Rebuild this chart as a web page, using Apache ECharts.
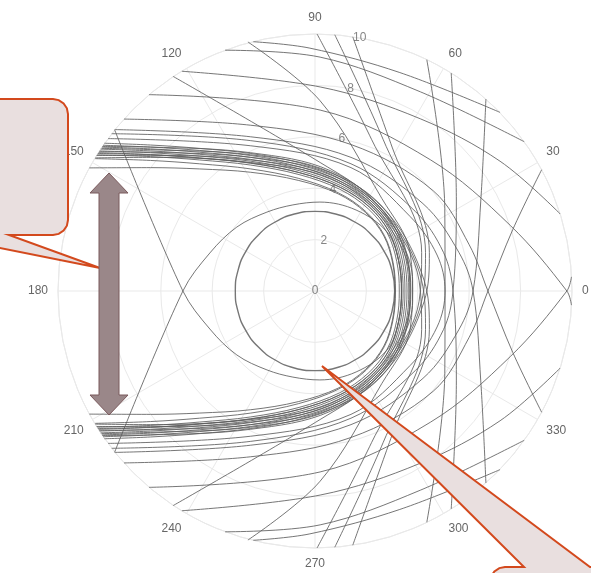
<!DOCTYPE html>
<html>
<head>
<meta charset="utf-8">
<script src="https://cdn.jsdelivr.net/npm/echarts@6.0.0/dist/echarts.min.js"></script>
<style>
  html, body { margin: 0; padding: 0; background: #ffffff; }
  #chart { width: 591px; height: 573px; }
</style>
</head>
<body>
<div id="chart"></div>
<script>
// Polar frame: angle ticks every 30 degrees, rings every 2 units out to 10
const angleTicks = [0, 30, 60, 90, 120, 150, 180, 210, 240, 270, 300, 330];
const radialTicks = [0, 2, 4, 6, 8, 10];
const radialLabelAngle = 80;

// Near-circular orbit close to the centre
const ringRadius = 3.1;
const ringAngles = [0, 15, 30, 45, 60, 75, 90, 105, 120, 135, 150, 165, 180,
                    195, 210, 225, 240, 255, 270, 285, 300, 315, 330, 345, 360];

// Trajectories as [x, y] points in radial units, entering from the upper left
const r1 = [[-2.4, 9.7], [-0.2, 9.45], [3.3, 8.5], [7.2, 6.95]];
const r2 = [[-3.5, 9.37], [0.2, 9.1], [4.1, 7.75], [8.14, 5.81]];
const r3 = [[-5.18, 8.55], [0.2, 7.94], [4.1, 6.7], [7.2, 5.05], [9.54, 3.0]];
const r4 = [[-6.46, 7.64], [0.2, 7.04], [4.5, 5.1], [7.6, 2.55], [9.8, 0], [9.98, -0.55]];
const r5 = [[-7.43, 6.69], [-2.5, 6.45], [1.4, 5.7], [4.6, 3.9], [6.0, 1.8], [6.73, 0], [7.7, -2.4], [8.82, -4.72]];
const r6 = [[-7.78, 6.28], [-2.5, 6.0], [1.4, 5.2], [4.2, 3.4], [5.6, 1.5], [6.15, 0], [6.45, -3.5], [6.65, -7.47]];
const r7 = [[-7.91, 6.12], [-2.5, 5.85], [1.4, 4.95], [3.9, 3.1], [5.0, 1.5], [5.37, 0], [5.5, -3.5], [5.3, -8.48]];
const r8 = [[-8.05, 5.93], [-2.5, 5.65], [1.4, 4.8], [3.7, 2.9], [4.75, 1.4], [5.06, 0], [5.05, -3.2], [4.35, -9.0]];
const r9 = [[-8.27, 5.62], [-6.4, 5.6], [-2.5, 5.38], [0.6, 4.68], [2.9, 2.95], [4.25, 0.4], [4.45, -1.5], [3.0, -5.6], [1.47, -9.89]];
const r10 = [[-8.3, 5.55], [-6.4, 5.5], [-2.5, 5.3], [0.6, 4.62], [2.85, 2.9], [4.15, 0.4], [4.3, -1.5], [2.65, -5.9], [0.77, -9.97]];
const r11 = [[-8.4, 5.42], [-6.4, 5.4], [-2.5, 5.2], [0.6, 4.55], [2.8, 2.85], [4.05, 0.4], [4.15, -1.5], [2.2, -5.9], [0.08, -10]];
const r12 = [[-8.5, 5.27], [-6.4, 5.28], [-2.5, 5.1], [0.6, 4.45], [2.75, 2.8], [3.8, 0.4], [3.7, -1.5], [2.6, -3.6], [0.2, -7.4], [-2.61, -9.69]];
const r13 = [[-8.55, 5.18], [-6.4, 5.2], [-2.5, 5.0], [0.6, 4.38], [2.7, 2.75], [3.7, 0.4], [3.5, -1.6], [2.2, -3.6], [0.2, -5.0], [-5.52, -8.35]];

// The same family entering from the lower left
const s1 = [[-2.4, -9.7], [-0.2, -9.45], [3.3, -8.5], [7.2, -6.95]];
const s2 = [[-3.5, -9.37], [0.2, -9.1], [4.1, -7.75], [8.14, -5.81]];
const s3 = [[-5.18, -8.55], [0.2, -7.94], [4.1, -6.7], [7.2, -5.05], [9.54, -3.0]];
const s4 = [[-6.46, -7.64], [0.2, -7.04], [4.5, -5.1], [7.6, -2.55], [9.8, 0], [9.98, 0.55]];
const s5 = [[-7.43, -6.69], [-2.5, -6.45], [1.4, -5.7], [4.6, -3.9], [6.0, -1.8], [6.73, 0], [7.7, 2.4], [8.82, 4.72]];
const s6 = [[-7.78, -6.28], [-2.5, -6.0], [1.4, -5.2], [4.2, -3.4], [5.6, -1.5], [6.15, 0], [6.45, 3.5], [6.65, 7.47]];
const s7 = [[-7.91, -6.12], [-2.5, -5.85], [1.4, -4.95], [3.9, -3.1], [5.0, -1.5], [5.37, 0], [5.5, 3.5], [5.3, 8.48]];
const s8 = [[-8.05, -5.93], [-2.5, -5.65], [1.4, -4.8], [3.7, -2.9], [4.75, -1.4], [5.06, 0], [5.05, 3.2], [4.35, 9.0]];
const s9 = [[-8.27, -5.62], [-6.4, -5.6], [-2.5, -5.38], [0.6, -4.68], [2.9, -2.95], [4.25, -0.4], [4.45, 1.5], [3.0, 5.6], [1.47, 9.89]];
const s10 = [[-8.3, -5.55], [-6.4, -5.5], [-2.5, -5.3], [0.6, -4.62], [2.85, -2.9], [4.15, -0.4], [4.3, 1.5], [2.65, 5.9], [0.77, 9.97]];
const s11 = [[-8.4, -5.42], [-6.4, -5.4], [-2.5, -5.2], [0.6, -4.55], [2.8, -2.85], [4.05, -0.4], [4.15, 1.5], [2.2, 5.9], [0.08, 10]];
const s12 = [[-8.5, -5.27], [-6.4, -5.28], [-2.5, -5.1], [0.6, -4.45], [2.75, -2.8], [3.8, -0.4], [3.7, 1.5], [2.6, 3.6], [0.2, 7.4], [-2.61, 9.69]];
const s13 = [[-8.55, -5.18], [-6.4, -5.2], [-2.5, -5.0], [0.6, -4.38], [2.7, -2.75], [3.7, -0.4], [3.5, 1.6], [2.2, 3.6], [0.2, 5.0], [-5.52, 8.35]];

// Paths that turn back round the centre
const u1 = [[-8.2, 5.75], [-6.4, 5.68], [-4.5, 5.55], [-2.5, 5.35], [-0.57, 4.98], [1.09, 4.39], [2.32, 3.58], [3.16, 2.54], [3.6, 1.3], [3.73, 0],
            [3.6, -1.3], [3.16, -2.54], [2.32, -3.58], [1.09, -4.39], [-0.57, -4.98], [-2.5, -5.35], [-4.5, -5.55], [-6.4, -5.68], [-8.2, -5.75]];
const u2 = [[-8.29, 5.6], [-6.4, 5.53], [-4.5, 5.4], [-2.5, 5.2], [-0.59, 4.83], [1.05, 4.24], [2.23, 3.46], [3.05, 2.44], [3.46, 1.25], [3.58, 0],
            [3.46, -1.25], [3.05, -2.44], [2.23, -3.46], [1.05, -4.24], [-0.59, -4.83], [-2.5, -5.2], [-4.5, -5.4], [-6.4, -5.53], [-8.29, -5.6]];
const u3 = [[-8.38, 5.45], [-6.4, 5.38], [-4.5, 5.25], [-2.5, 5.05], [-0.6, 4.68], [1.0, 4.1], [2.15, 3.33], [2.93, 2.35], [3.32, 1.2], [3.43, 0],
            [3.32, -1.2], [2.93, -2.35], [2.15, -3.33], [1.0, -4.1], [-0.6, -4.68], [-2.5, -5.05], [-4.5, -5.25], [-6.4, -5.38], [-8.38, -5.45]];
const u4 = [[-8.47, 5.3], [-6.4, 5.23], [-4.5, 5.1], [-2.5, 4.9], [-0.62, 4.53], [0.96, 3.96], [2.07, 3.2], [2.81, 2.26], [3.18, 1.15], [3.28, 0],
            [3.18, -1.15], [2.81, -2.26], [2.07, -3.2], [0.96, -3.96], [-0.62, -4.53], [-2.5, -4.9], [-4.5, -5.1], [-6.4, -5.23], [-8.47, -5.3]];
const u5 = [[-8.55, 5.15], [-6.4, 5.08], [-4.5, 4.95], [-2.5, 4.75], [-0.63, 4.38], [0.91, 3.82], [1.99, 3.08], [2.7, 2.16], [3.04, 1.1], [3.13, 0],
            [3.04, -1.1], [2.7, -2.16], [1.99, -3.08], [0.91, -3.82], [-0.63, -4.38], [-2.5, -4.75], [-4.5, -4.95], [-6.4, -5.08], [-8.55, -5.15]];
const u6 = [[-8.78, 4.79], [-6.4, 4.8], [-4.5, 4.75], [-2.5, 4.62], [-0.63, 4.3], [0.9, 3.78], [1.97, 3.05], [2.68, 2.14], [3.02, 1.09], [3.11, 0],
            [3.02, -1.09], [2.68, -2.14], [1.97, -3.05], [0.9, -3.78], [-0.63, -4.3], [-2.5, -4.62], [-4.5, -4.75], [-6.4, -4.8], [-8.78, -4.79]];
const u7 = [[-8.34, 5.52], [-6.4, 5.45], [-4.5, 5.32], [-2.5, 5.12], [-0.59, 4.75], [1.02, 4.17], [2.19, 3.39], [2.98, 2.39], [3.39, 1.22], [3.5, 0],
            [3.39, -1.22], [2.98, -2.39], [2.19, -3.39], [1.02, -4.17], [-0.59, -4.75], [-2.5, -5.12], [-4.5, -5.32], [-6.4, -5.45], [-8.34, -5.52]];
const u8 = [[-8.42, 5.38], [-6.4, 5.31], [-4.5, 5.18], [-2.5, 4.98], [-0.61, 4.61], [0.98, 4.03], [2.11, 3.27], [2.88, 2.31], [3.25, 1.18], [3.36, 0],
            [3.25, -1.18], [2.88, -2.31], [2.11, -3.27], [0.98, -4.03], [-0.61, -4.61], [-2.5, -4.98], [-4.5, -5.18], [-6.4, -5.31], [-8.42, -5.38]];
const u9 = [[-8.25, 5.67], [-6.4, 5.6], [-4.5, 5.47], [-2.5, 5.27], [-0.58, 4.9], [1.07, 4.31], [2.27, 3.51], [3.1, 2.49], [3.53, 1.27], [3.65, 0],
            [3.53, -1.27], [3.1, -2.49], [2.27, -3.51], [1.07, -4.31], [-0.58, -4.9], [-2.5, -5.27], [-4.5, -5.47], [-6.4, -5.6], [-8.25, -5.67]];

// Paths that wrap past the far side and leave on the left
const w1 = [[-8.45, 5.35], [-6.4, 5.3], [-4.5, 5.17], [-2.5, 4.97], [-0.6, 4.6], [1.0, 4.03], [2.12, 3.27], [2.88, 2.3], [3.26, 1.18], [3.37, 0],
            [3.25, -1.2], [2.8, -2.3], [1.6, -3.15], [0.19, -3.46], [-0.86, -3.35], [-1.87, -3.07], [-3.04, -2.49], [-4.09, -1.48], [-5.14, 0], [-7.8, 6.28]];
const w2 = [[-8.45, -5.35], [-6.4, -5.3], [-4.5, -5.17], [-2.5, -4.97], [-0.6, -4.6], [1.0, -4.03], [2.12, -3.27], [2.88, -2.3], [3.26, -1.18], [3.37, 0],
            [3.25, 1.2], [2.8, 2.3], [1.6, 3.15], [0.19, 3.46], [-0.86, 3.35], [-1.87, 3.07], [-3.04, 2.49], [-4.09, 1.48], [-5.14, 0], [-7.8, -6.28]];

const paths = [r1, r2, r3, r4, r5, r6, r7, r8, r9, r10, r11, r12, r13,
               s1, s2, s3, s4, s5, s6, s7, s8, s9, s10, s11, s12, s13,
               u1, u2, u3, u4, u5, u6, u7, u8, u9, w1, w2];

const CX = 315, CY = 291, R = 257;
const lineColor = '#5e5e5e';
const gridColor = '#e9e9e9';
const textColor = '#666666';
const fontFamily = 'Liberation Sans, Arial, sans-serif';

const chart = echarts.init(document.getElementById('chart'), null, { renderer: 'canvas' });

const series = [];
paths.forEach(function (p) {
  series.push({
    type: 'line', xAxisIndex: 0, yAxisIndex: 0, data: p,
    smooth: 0.35, showSymbol: false, silent: true,
    lineStyle: { color: lineColor, width: 1, opacity: 0.85 }, z: 3
  });
});
series.push({
  type: 'line', coordinateSystem: 'polar', polarIndex: 0, data: ringAngles.map(a => [ringRadius, a]),
  smooth: true, showSymbol: false, silent: true,
  lineStyle: { color: lineColor, width: 1.4, opacity: 0.85 }, z: 3
});
// Radius tick labels set along the 80 degree ray
series.push({
  type: 'scatter', coordinateSystem: 'polar', polarIndex: 0, symbolSize: 1, silent: true,
  itemStyle: { color: 'rgba(255,255,255,0)' },
  data: radialTicks.map(r => [r, radialLabelAngle]),
  label: { show: true, position: 'inside', formatter: p => String(p.value[0]),
           color: textColor, fontSize: 12, fontFamily: fontFamily },
  z: 4
});

// Callout outlines and the span arrow, in screen pixels
const callout1 = [[-20, 99], [53, 99], [58.7, 100.1], [63.6, 103.4], [66.9, 108.3], [68, 114],
                  [68, 220], [66.9, 225.7], [63.6, 230.6], [58.7, 233.9], [53, 235],
                  [9, 235], [100, 268], [-20, 244]];
const callout2 = [[322, 366], [524, 567], [505, 567], [499.3, 568.1], [494.4, 571.4], [491.1, 576.3], [490, 582],
                  [490, 600], [620, 600], [620, 567], [590, 567]];
const spanArrow = [[109, 173], [128, 193], [119, 193], [119, 395], [128, 395], [109, 415],
                   [90, 395], [99, 395], [99, 193], [90, 193]];

const option = {
  animation: false,
  backgroundColor: '#ffffff',
  polar: { center: [CX, CY], radius: R },
  angleAxis: {
    type: 'value', min: 0, max: 360, interval: 30, startAngle: 0, clockwise: false,
    axisLine: { show: true, lineStyle: { color: gridColor, width: 1 } },
    axisTick: { show: false },
    axisLabel: { margin: 10, color: textColor, fontSize: 12, fontFamily: fontFamily,
                 formatter: v => (angleTicks.indexOf(v) >= 0 ? String(v) : '') },
    splitLine: { show: true, lineStyle: { color: gridColor, width: 1 } }
  },
  radiusAxis: {
    type: 'value', min: 0, max: 10, interval: 2,
    axisLine: { show: false }, axisTick: { show: false }, axisLabel: { show: false },
    splitLine: { show: true, lineStyle: { color: gridColor, width: 1 } }
  },
  grid: { left: CX - R, top: CY - R, width: 2 * R, height: 2 * R },
  xAxis: { type: 'value', min: -10, max: 10, show: false },
  yAxis: { type: 'value', min: -10, max: 10, show: false },
  series: series,
  graphic: [
    { type: 'polygon', z: 100, shape: { points: callout1 },
      style: { fill: '#e9dfdf', stroke: '#d3491d', lineWidth: 2 } },
    { type: 'polygon', z: 100, shape: { points: callout2 },
      style: { fill: '#e9dfdf', stroke: '#d3491d', lineWidth: 2 } },
    { type: 'polygon', z: 100, shape: { points: spanArrow },
      style: { fill: '#9a8789', stroke: '#7b5a5d', lineWidth: 1 } }
  ]
};

chart.setOption(option);
</script>
</body>
</html>
